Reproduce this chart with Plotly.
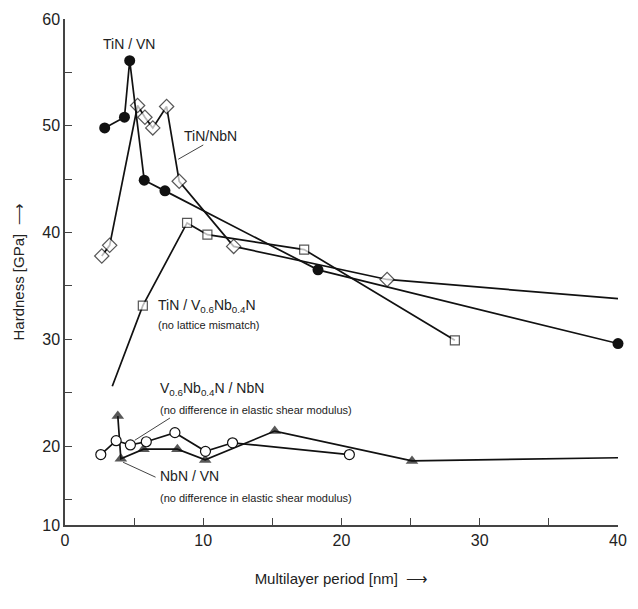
import plotly.graph_objects as go

# ---- data ----
tin_vn_x = [2.87, 4.30, 4.68, 5.73, 7.23, 18.3, 40.0]
tin_vn_y = [49.8, 50.8, 56.1, 44.9, 43.9, 36.5, 29.6]

tin_nbn_x = [2.66, 3.23, 5.25, 5.78, 6.35, 7.35, 8.26, 12.2, 23.3, 40.0]
tin_nbn_y = [37.8, 38.8, 51.9, 50.8, 49.8, 51.8, 44.8, 38.7, 35.6, 33.8]
tin_nbn_marker = [True, True, True, True, True, True, True, True, True, False]

tin_vnbn_x = [3.42, 5.63, 8.83, 10.3, 17.3, 28.2]
tin_vnbn_y = [25.6, 33.15, 40.9, 39.8, 38.4, 29.9]
tin_vnbn_marker = [False, True, True, True, True, True]

vnbn_nbn_x = [2.59, 3.70, 4.73, 5.88, 7.95, 10.16, 12.12, 20.57]
vnbn_nbn_y = [19.2, 20.5, 20.1, 20.4, 21.25, 19.5, 20.3, 19.2]

nbn_vn_x = [3.82, 4.04, 5.68, 8.13, 10.14, 15.17, 25.1, 40.0]
nbn_vn_y = [22.8, 18.8, 19.7, 19.7, 18.7, 21.4, 18.6, 18.9]
nbn_vn_marker = [True, True, True, True, True, True, True, False]

x_ticks = [0, 5, 10, 15, 20, 25, 30, 35, 40]
x_ticktext = ["0", "", "10", "", "20", "", "30", "", "40"]
y_bottom = 12.6  # axis is truncated: the "10" label sits at the axis corner
y_ticks = [y_bottom, 15, 20, 25, 30, 35, 40, 45, 50, 55, 60]
y_ticktext = ["10", "", "20", "", "30", "", "40", "", "50", "", "60"]

BLACK = "#111111"
TXT = "#222222"
FONT = "Liberation Sans, Arial, sans-serif"

fig = go.Figure()


def sizes(flags, s):
    return [s if f else 0 for f in flags]


fig.add_trace(go.Scatter(
    x=tin_nbn_x, y=tin_nbn_y, mode="lines+markers", cliponaxis=False,
    line=dict(color=BLACK, width=1.7),
    marker=dict(symbol="diamond", size=sizes(tin_nbn_marker, 11), color="white",
                line=dict(color=BLACK, width=1.2)),
    showlegend=False))

fig.add_trace(go.Scatter(
    x=tin_vnbn_x, y=tin_vnbn_y, mode="lines+markers", cliponaxis=False,
    line=dict(color=BLACK, width=1.7),
    marker=dict(symbol="square", size=sizes(tin_vnbn_marker, 9), color="white",
                line=dict(color=BLACK, width=1.2)),
    showlegend=False))

fig.add_trace(go.Scatter(
    x=tin_vn_x, y=tin_vn_y, mode="lines+markers", cliponaxis=False,
    line=dict(color=BLACK, width=1.7),
    marker=dict(symbol="circle", size=11, color=BLACK,
                line=dict(color=BLACK, width=0)),
    showlegend=False))

fig.add_trace(go.Scatter(
    x=nbn_vn_x, y=nbn_vn_y, mode="lines+markers", cliponaxis=False,
    line=dict(color=BLACK, width=1.7),
    marker=dict(symbol="triangle-up", size=sizes(nbn_vn_marker, 11), color=BLACK,
                line=dict(color=BLACK, width=0)),
    showlegend=False))

fig.add_trace(go.Scatter(
    x=vnbn_nbn_x, y=vnbn_nbn_y, mode="lines+markers", cliponaxis=False,
    line=dict(color=BLACK, width=1.7),
    marker=dict(symbol="circle", size=10, color="white",
                line=dict(color=BLACK, width=1.2)),
    showlegend=False))

ann = []


def label(x, y, text, size, anchor="left", family=FONT):
    ann.append(dict(x=x, y=y, xref="x", yref="y", text=text, showarrow=False,
                    xanchor=anchor, yanchor="middle",
                    font=dict(family=family, size=size, color=TXT)))


label(4.63, 57.7, "TiN / VN", 14, "center")
label(10.5, 49.0, "TiN/NbN", 14, "center")
label(6.6, 33.15, "TiN / V<sub>0.6</sub>Nb<sub>0.4</sub>N", 14)
label(6.6, 31.3, "(no lattice mismatch)", 11)
label(6.7, 25.3, "V<sub>0.6</sub>Nb<sub>0.4</sub>N / NbN", 14)
label(6.7, 23.4, "(no difference in elastic shear modulus)", 11)
label(6.7, 17.15, "NbN / VN", 14)
label(6.7, 15.1, "(no difference in elastic shear modulus)", 11)

shapes = [
    dict(type="line", xref="x", yref="y", x0=10.0, y0=48.2, x1=8.19, y1=46.86,
         line=dict(color="#444444", width=1)),
    dict(type="line", xref="x", yref="y", x0=7.59, y0=22.62, x1=5.05, y1=20.54,
         line=dict(color="#444444", width=1)),
    dict(type="line", xref="x", yref="y", x0=4.2, y0=18.48, x1=6.55, y1=17.08,
         line=dict(color="#444444", width=1)),
]

fig.update_layout(
    width=638, height=609,
    margin=dict(l=65, r=11, t=18, b=84),
    paper_bgcolor="white", plot_bgcolor="white",
    annotations=ann, shapes=shapes,
    font=dict(family=FONT, color=TXT),
    xaxis=dict(range=[0, 40], tickvals=x_ticks, ticktext=x_ticktext,
               ticks="inside", ticklen=7, tickcolor="#444444", tickwidth=1,
               showline=True, linecolor="#444444", linewidth=1.5,
               showgrid=False, zeroline=False,
               tickfont=dict(size=16, color=TXT),
               title=dict(text="Multilayer period [nm]  ⟶",
                          font=dict(size=15, color=TXT), standoff=26)),
    yaxis=dict(range=[y_bottom, 60], tickvals=y_ticks, ticktext=y_ticktext,
               ticks="inside", ticklen=7, tickcolor="#444444", tickwidth=1,
               showline=True, linecolor="#444444", linewidth=1.5,
               showgrid=False, zeroline=False,
               tickfont=dict(size=16, color=TXT),
               title=dict(text="Hardness [GPa]  ⟶",
                          font=dict(size=15, color=TXT), standoff=14)),
)

fig.write_html("out.html")
